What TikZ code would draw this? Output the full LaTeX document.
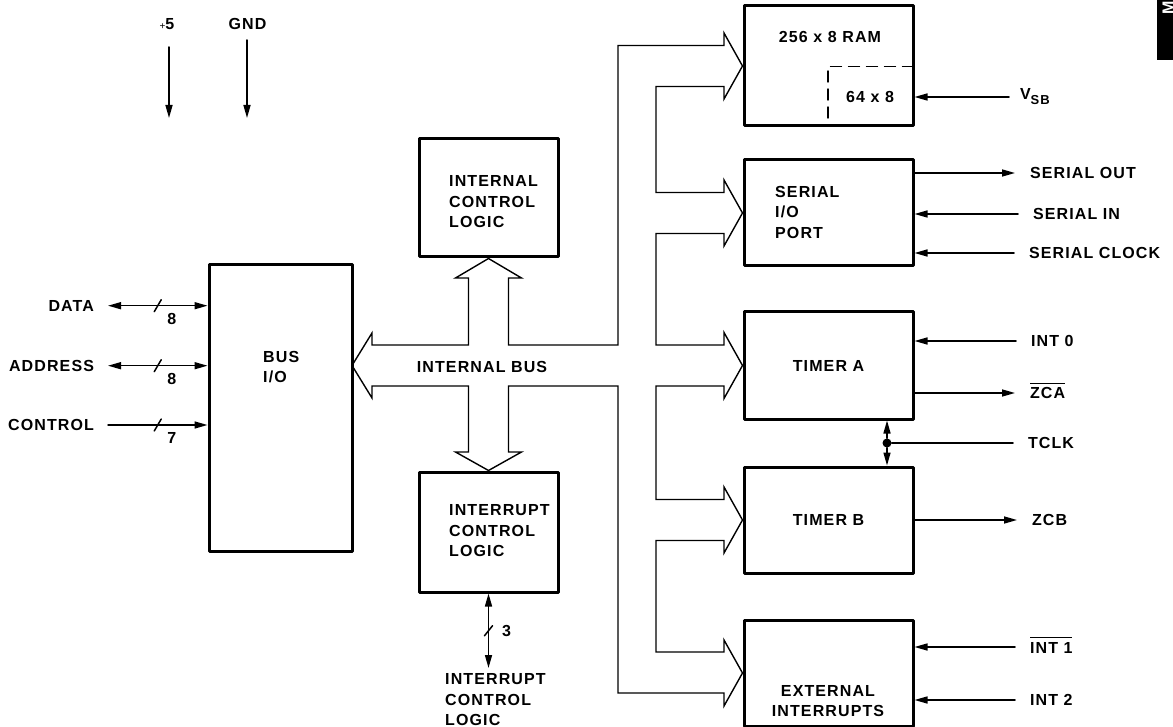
\documentclass[tikz,border=0pt]{standalone}
\usepackage{fontspec}
\setmainfont{Liberation Sans}[LetterSpace=7]
\usetikzlibrary{arrows.meta,calc,positioning}
\tikzset{
  every picture/.append style={line cap=round,line join=round},
  mcu block/.style={draw,line width=3pt,minimum width=169pt,inner sep=0pt,
    font=\fontsize{16}{20.5}\selectfont\bfseries,align=center},
  mcu text/.style={font=\fontsize{16}{20.5}\selectfont\bfseries,inner sep=0pt},
  mcu bus/.style={line width=1.4pt,line join=miter},
  mcu wire/.style={line width=1.5pt},
  mcu pin/.style={mcu text,anchor=west,outer xsep=15pt},
  mcu lpin/.style={mcu text,anchor=east,outer xsep=14pt},
  mcu dot/.style={circle,fill=black,inner sep=0pt,minimum size=9pt}
}
\newcommand{\busslash}[1]{\draw[mcu wire] ($(#1)+(-3.5,6)$) -- ($(#1)+(3.5,-6)$);}
\newcommand{\activelow}[1]{$\overline{\rule{0pt}{14pt}\hbox{#1}}$}

\begin{document}
\begin{tikzpicture}[x=1pt,y=-1pt,>={Triangle[length=13pt,width=7pt]}]
  \useasboundingbox (0,0) rectangle (1173,727);
  % blocks
  \node[mcu block,minimum width=143pt,minimum height=286pt] (busio) at (280.5,408) {};
  \node[mcu text,align=left,anchor=west] (busiotxt) at (263,367) {BUS\\I/O};
  \node[mcu block,minimum width=139pt,minimum height=118pt] (ictl) at (488.5,198) {};
  \node[mcu text,align=left,anchor=west] (ictltxt) at (449,202) {INTERNAL\\CONTROL\\LOGIC};
  \node[mcu block,minimum width=139pt,minimum height=120pt] (irq) at (488.5,532) {};
  \node[mcu text,align=left,anchor=west] (irqtxt) at (449,531) {INTERRUPT\\CONTROL\\LOGIC};
  \node[mcu block,minimum height=120pt] (ram) at (828.5,66) {};
  \node[mcu text] (ramtxt) at (830,36.5) {256 x 8 RAM};
  \node[mcu text] (stbtxt) at (870,97) {64 x 8};
  \draw[line width=1.4pt,dash pattern=on 11pt off 7pt] (828,118) -- (828,66.5) -- (912,66.5);
  \node[mcu block,minimum height=106pt] (sio) at (828.5,213) {};
  \node[mcu text,align=left,anchor=west] (siotxt) at (775,212) {SERIAL\\I/O\\PORT};
  \node[mcu block,minimum height=107pt] (tma) at (828.5,365.5) {TIMER A};
  \node[mcu block,minimum height=106pt] (tmb) at (828.5,520) {TIMER B};
  \node[mcu block,minimum height=106pt] (ext) at (828.5,673) {};
  \node[mcu text,align=center] (exttxt) at (828,701) {EXTERNAL\\INTERRUPTS};

  % internal bus
  \draw[mcu bus] (468.5,345) -- (372,345) -- (372,333) -- (352,365.5) -- (372,398)
    -- (372,386) -- (468.5,386) -- (468.5,452) -- (455.5,452) -- (irq.north)
    -- (521.5,452) -- (508.5,452) -- (508.5,386) -- (618,386) -- (618,693)
    -- (724,693) -- (724,706) -- (ext.west) -- (724,640) -- (724,652)
    -- (656,652) -- (656,540.5) -- (724,540.5) -- (724,553) -- (tmb.west)
    -- (724,487) -- (724,499.5) -- (656,499.5) -- (656,386) -- (724,386)
    -- (724,398.5) -- (tma.west) -- (724,332.5) -- (724,345) -- (656,345)
    -- (656,233.5) -- (724,233.5) -- (724,246) -- (sio.west) -- (724,180)
    -- (724,192.5) -- (656,192.5) -- (656,86.5) -- (724,86.5) -- (724,99)
    -- (ram.west) -- (724,33) -- (724,45.5) -- (618,45.5) -- (618,345)
    -- (508.5,345) -- (508.5,278) -- (521.5,278) -- (ictl.south) -- (455.5,278)
    -- (468.5,278) -- cycle;
  \node[mcu text] (ibus) at (482,366.5) {INTERNAL BUS};

  % supply
  \node[mcu text] (vcc) at (167,24) {{\fontsize{10}{10}\selectfont\mdseries+}5};
  \node[mcu text] (gnd) at (247.5,24) {GND};
  \coordinate (vcctop) at (169,47);
  \coordinate (vccend) at (169,118);
  \coordinate (gndtop) at (247,40);
  \coordinate (gndend) at (247,118);
  \draw[mcu wire,->] (vcctop) -- (vccend);
  \draw[mcu wire,->] (gndtop) -- (gndend);

  % processor side
  \node[mcu lpin] (data) at (108,305.7) {DATA};
  \node[mcu lpin] (addr) at (108,365.7) {ADDRESS};
  \node[mcu lpin] (ctrl) at (108,425) {CONTROL};
  \draw[mcu wire,<->] (data.east) -- coordinate (dslash) (data.east -| busio.west);
  \draw[mcu wire,<->] (addr.east) -- coordinate (aslash) (addr.east -| busio.west);
  \draw[mcu wire,->] (ctrl.east) -- coordinate (cslash) (ctrl.east -| busio.west);
  \busslash{dslash}
  \busslash{aslash}
  \busslash{cslash}
  \node[mcu text] (dwid) at ($(dslash)+(14,13)$) {8};
  \node[mcu text] (awid) at ($(aslash)+(14,13)$) {8};
  \node[mcu text] (cwid) at ($(cslash)+(14,13)$) {7};

  % interrupt output
  \coordinate (irqpin) at (488.5,668);
  \draw[mcu wire,<->] (irq.south) -- coordinate (islash) (irqpin);
  \draw[mcu wire] ($(islash)+(-4,5)$) -- ($(islash)+(4,-5)$);
  \node[mcu text] (iwid) at ($(islash)+(18,0)$) {3};
  \node[mcu text,align=left,anchor=west] (irqout) at (445,700) {INTERRUPT\\CONTROL\\LOGIC};

  % right pins
  \node[mcu pin,outer xsep=11pt] (vsb) at (1009,97)
    {V\raisebox{-5pt}{\fontsize{13}{13}\selectfont SB}};
  \draw[mcu wire,->] (vsb.west) -- (ram.east |- vsb.west);
  \node[mcu pin] (sout) at (1015,173) {SERIAL OUT};
  \node[mcu pin] (sin) at (1018,214) {SERIAL IN};
  \node[mcu pin] (sclk) at (1014,253) {SERIAL CLOCK};
  \draw[mcu wire,->] (sio.east |- sout.west) -- (sout.west);
  \draw[mcu wire,<-] (sio.east |- sin.west) -- (sin.west);
  \draw[mcu wire,<-] (sio.east |- sclk.west) -- (sclk.west);
  \node[mcu pin] (int0) at (1016,341) {INT 0};
  \node[mcu pin,anchor=base west] (zca) at (1015,399) {\activelow{ZCA}};
  \draw[mcu wire,<-] (tma.east |- int0.west) -- (int0.west);
  \draw[mcu wire,->] (tma.east |- 0,393) -- (zca.west |- 0,393);
  \node[mcu pin] (tclk) at (1013,443) {TCLK};
  \node[mcu dot] (tdot) at (887,443) {};
  \draw[mcu wire] (tdot) -- (tclk.west);
  \draw[mcu wire,->] (tdot) -- (tdot |- tma.south);
  \draw[mcu wire,->] (tdot) -- (tdot |- tmb.north);
  \node[mcu pin] (zcb) at (1017,520) {ZCB};
  \draw[mcu wire,->] (tmb.east |- zcb.west) -- (zcb.west);
  \node[mcu pin,anchor=base west] (int1) at (1015,653) {\activelow{INT 1}};
  \node[mcu pin] (int2) at (1015,700) {INT 2};
  \draw[mcu wire,<-] (ext.east |- 0,647) -- (int1.west |- 0,647);
  \draw[mcu wire,<-] (ext.east |- int2.west) -- (int2.west);

  % page tab
  \fill (1157,0) rectangle (1173,60);
  \begin{scope}
    \clip (1157,0) rectangle (1173,60);
    \node[mcu text,white,rotate=90] (tab) at (1168,8) {M};
  \end{scope}
\end{tikzpicture}
\end{document}
